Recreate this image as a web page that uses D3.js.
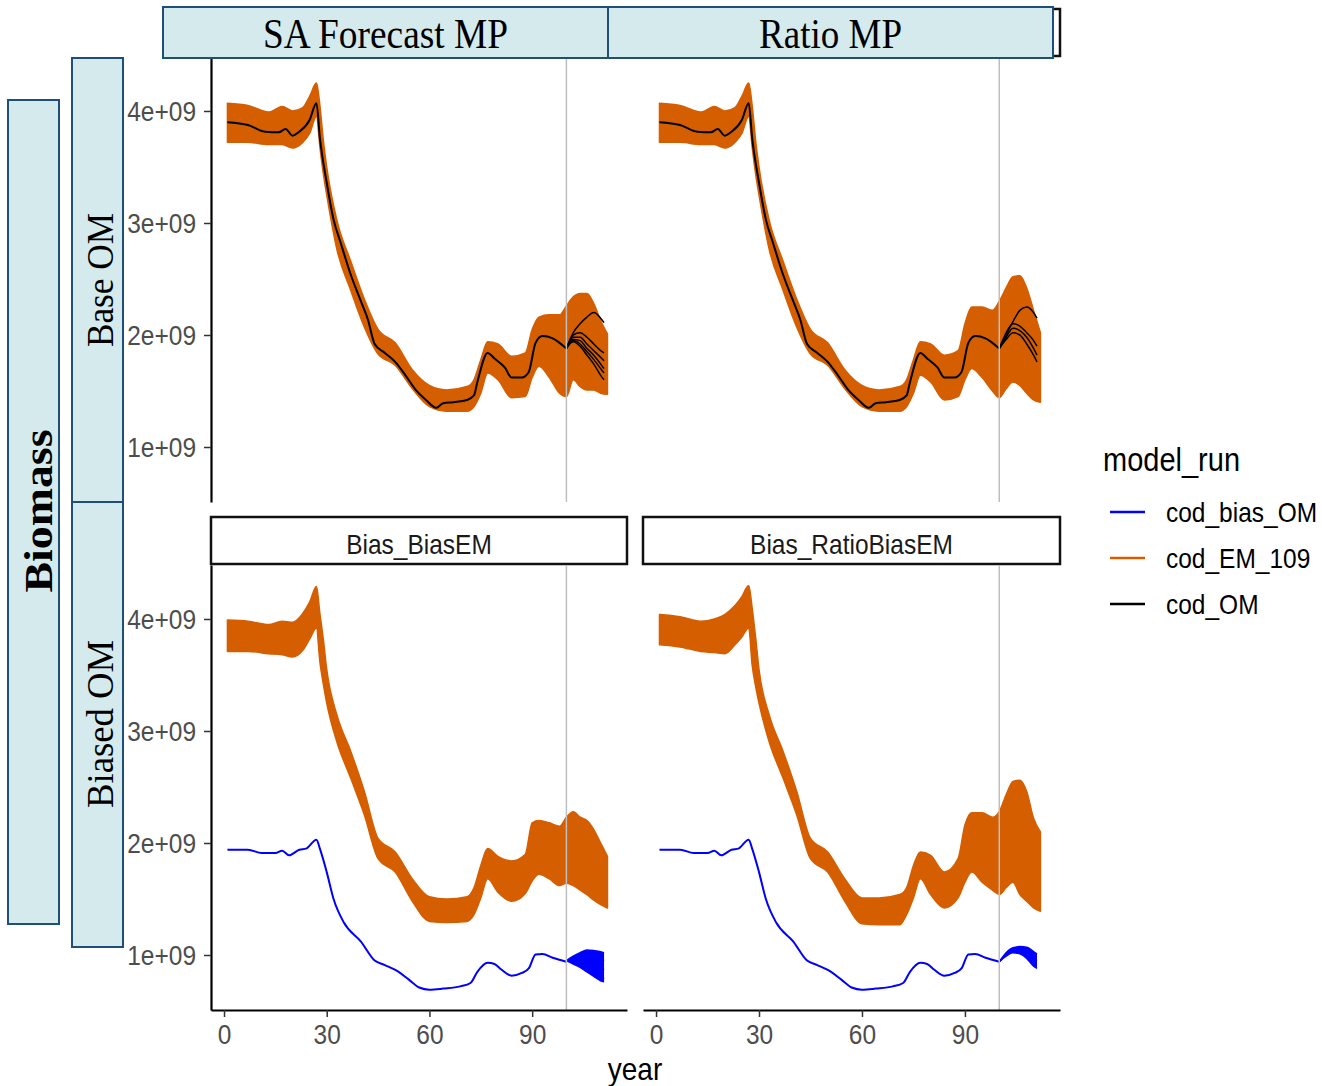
<!DOCTYPE html>
<html>
<head>
<meta charset="UTF-8">
<title>Biomass by MP and OM</title>
<script src="https://cdn.jsdelivr.net/npm/d3@7"></script>
<style>
  body { margin: 0; background: #fff; }
  svg { display: block; font-family: "Liberation Sans", Arial, sans-serif; }
</style>
</head>
<body>
<svg id="chart" width="1322" height="1086"></svg>
<script>
// all biomass values in units of 1e9

// operating model (base), historical years
var omYear = [1, 7, 12, 16, 18, 20, 22, 25, 27, 28, 30, 32, 34, 37, 40, 42, 44, 47, 50, 53, 56, 59, 62, 64, 67, 71, 73, 74, 77, 79, 82, 84, 87, 89, 91, 93, 96, 98, 100];
var omBase = [3.90, 3.875, 3.815, 3.81, 3.84, 3.78, 3.815, 3.92, 4.07, 3.76, 3.36, 3.03, 2.83, 2.54, 2.30, 2.14, 1.92, 1.84, 1.76, 1.64, 1.51, 1.42, 1.35, 1.39, 1.40, 1.42, 1.46, 1.58, 1.84, 1.79, 1.71, 1.62, 1.62, 1.67, 1.93, 1.99, 1.97, 1.93, 1.88];

// biased operating model, historical years
var biasYear = [1, 7, 11, 15, 17, 19, 22, 24, 27, 28, 30, 32, 35, 40, 44, 47, 51, 54, 57, 60, 64, 69, 72, 74, 77, 79, 81, 84, 87, 89, 91, 93, 96, 100];
var biasOM = [1.94, 1.94, 1.91, 1.91, 1.93, 1.89, 1.94, 1.95, 2.03, 1.95, 1.74, 1.50, 1.29, 1.12, 0.95, 0.91, 0.85, 0.78, 0.71, 0.69, 0.70, 0.72, 0.75, 0.85, 0.93, 0.92, 0.87, 0.815, 0.84, 0.88, 1.005, 1.01, 0.975, 0.94];

// OM projections (several iterations)
var projYear = [100, 102, 104, 106, 108, 110, 111];
var projTL = [
  [1.88, 2.02, 2.10, 2.16, 2.20, 2.15, 2.11],
  [1.88, 2.00, 2.02, 1.98, 1.92, 1.86, 1.84],
  [1.88, 1.98, 1.98, 1.92, 1.86, 1.80, 1.77],
  [1.88, 1.96, 1.95, 1.88, 1.82, 1.74, 1.70],
  [1.88, 1.95, 1.92, 1.85, 1.78, 1.70, 1.66],
  [1.88, 1.94, 1.90, 1.82, 1.74, 1.64, 1.60]
];
var projTR = [
  [1.88, 2.00, 2.12, 2.22, 2.25, 2.20, 2.15],
  [1.88, 2.02, 2.10, 2.08, 2.02, 1.95, 1.90],
  [1.88, 1.98, 2.06, 2.04, 1.98, 1.88, 1.82],
  [1.88, 1.96, 2.02, 2.00, 1.92, 1.82, 1.76]
];
var projBL = [
  [0.95, 0.99, 1.02, 1.045, 1.04, 1.03, 1.02],
  [0.95, 0.97, 0.99, 1.00, 0.99, 0.97, 0.95],
  [0.95, 0.95, 0.95, 0.94, 0.92, 0.89, 0.87],
  [0.95, 0.93, 0.91, 0.88, 0.85, 0.81, 0.79],
  [0.95, 0.92, 0.89, 0.85, 0.81, 0.77, 0.76]
];
var projBR = [
  [0.94, 1.02, 1.065, 1.075, 1.07, 1.03, 1.01],
  [0.94, 1.00, 1.04, 1.04, 1.02, 0.97, 0.95],
  [0.94, 0.99, 1.02, 1.01, 0.97, 0.90, 0.88]
];

// estimation model runs: upper and lower edge of the bundle of runs
var emYear = [1, 7, 13, 17, 20, 23, 25, 27, 28, 29, 30, 33, 37, 41, 45, 50, 55, 60, 65, 71, 73, 75, 77, 80, 84, 88, 90, 92, 95, 98, 100, 102, 104, 106, 108, 110, 112];
var emTLhi = [4.07, 4.05, 3.99, 4.04, 4.00, 4.03, 4.13, 4.25, 4.05, 3.74, 3.50, 3.02, 2.66, 2.32, 2.05, 1.93, 1.69, 1.55, 1.51, 1.54, 1.60, 1.78, 1.94, 1.92, 1.81, 1.84, 2.05, 2.16, 2.18, 2.18, 2.26, 2.34, 2.37, 2.37, 2.28, 2.13, 2.01];
var emTLlo = [3.72, 3.72, 3.70, 3.70, 3.67, 3.72, 3.80, 3.95, 3.68, 3.44, 3.25, 2.76, 2.40, 2.07, 1.83, 1.73, 1.52, 1.36, 1.32, 1.32, 1.36, 1.48, 1.66, 1.60, 1.44, 1.45, 1.62, 1.72, 1.62, 1.48, 1.45, 1.60, 1.54, 1.51, 1.51, 1.48, 1.47];
var emTRhi = [4.07, 4.05, 3.99, 4.04, 4.00, 4.03, 4.13, 4.25, 4.05, 3.74, 3.50, 3.02, 2.66, 2.32, 2.05, 1.93, 1.69, 1.55, 1.51, 1.54, 1.60, 1.78, 1.94, 1.92, 1.82, 1.86, 2.10, 2.25, 2.25, 2.22, 2.30, 2.42, 2.52, 2.53, 2.42, 2.22, 2.02];
var emTRlo = [3.72, 3.72, 3.70, 3.70, 3.67, 3.72, 3.80, 3.95, 3.68, 3.44, 3.25, 2.76, 2.40, 2.07, 1.83, 1.73, 1.52, 1.36, 1.32, 1.32, 1.36, 1.48, 1.64, 1.58, 1.42, 1.45, 1.60, 1.70, 1.62, 1.50, 1.44, 1.52, 1.58, 1.55, 1.48, 1.42, 1.40];
var emBLhi = [3.99, 3.98, 3.95, 3.98, 3.97, 4.05, 4.15, 4.29, 4.05, 3.82, 3.55, 3.14, 2.82, 2.46, 2.04, 1.92, 1.68, 1.52, 1.50, 1.52, 1.60, 1.80, 1.95, 1.88, 1.84, 1.90, 2.18, 2.20, 2.18, 2.15, 2.23, 2.28, 2.23, 2.20, 2.12, 2.00, 1.88];
var emBLlo = [3.71, 3.71, 3.69, 3.68, 3.66, 3.72, 3.82, 3.92, 3.62, 3.42, 3.25, 2.90, 2.58, 2.25, 1.86, 1.74, 1.48, 1.30, 1.29, 1.30, 1.36, 1.51, 1.68, 1.56, 1.48, 1.55, 1.66, 1.72, 1.68, 1.62, 1.64, 1.62, 1.58, 1.54, 1.49, 1.45, 1.42];
var emBRhi = [4.04, 4.02, 3.98, 4.00, 4.04, 4.12, 4.20, 4.30, 4.10, 3.84, 3.55, 3.14, 2.82, 2.46, 2.04, 1.92, 1.68, 1.51, 1.51, 1.54, 1.60, 1.80, 1.92, 1.89, 1.74, 1.86, 2.16, 2.27, 2.27, 2.23, 2.28, 2.43, 2.55, 2.56, 2.46, 2.22, 2.10];
var emBRlo = [3.77, 3.75, 3.71, 3.70, 3.69, 3.77, 3.84, 3.92, 3.59, 3.40, 3.25, 2.90, 2.58, 2.25, 1.86, 1.74, 1.48, 1.28, 1.27, 1.27, 1.36, 1.51, 1.68, 1.54, 1.42, 1.51, 1.65, 1.74, 1.65, 1.58, 1.54, 1.60, 1.65, 1.54, 1.48, 1.42, 1.39];

var yTicks = [1, 2, 3, 4];
var xTicks = [0, 30, 60, 90];
var refYear = 100;
var legendKeys = ["cod_bias_OM", "cod_EM_109", "cod_OM"];
var legendColors = ["#0000ff", "#d55e00", "#000000"];

var BN = 1e9;
var ORANGE = "#d55e00";
var svg = d3.select("#chart");

// sans text is slightly stretched vertically in the source image
function stext(g, x, y, str, size, anchor, fill) {
  return g.append("text")
    .attr("transform", "translate(" + x + "," + y + ") scale(1,1.15)")
    .attr("text-anchor", anchor || "start")
    .attr("font-size", size)
    .attr("fill", fill || "#000")
    .text(str);
}

var cols = [[211, 627], [643, 1060]];
var rows = [[57, 502], [565, 1010]];
var xDom = [-3.8, 117.7];
var yDom = [0.509 * BN, 4.482 * BN];

var panels = [
  { c: 0, r: 0, hi: emTLhi, lo: emTLlo, omY: omYear, om: omBase, proj: projTL, color: "#000", fan: false },
  { c: 1, r: 0, hi: emTRhi, lo: emTRlo, omY: omYear, om: omBase, proj: projTR, color: "#000", fan: false },
  { c: 0, r: 1, hi: emBLhi, lo: emBLlo, omY: biasYear, om: biasOM, proj: projBL, color: "#0000ff", fan: true, strip: "Bias_BiasEM" },
  { c: 1, r: 1, hi: emBRhi, lo: emBRlo, omY: biasYear, om: biasOM, proj: projBR, color: "#0000ff", fan: true, strip: "Bias_RatioBiasEM" }
];

panels.forEach(function (p) {
  var x = d3.scaleLinear().domain(xDom).range(cols[p.c]);
  var y = d3.scaleLinear().domain(yDom).range([rows[p.r][1], rows[p.r][0]]);
  var g = svg.append("g");

  // strip
  var sy = rows[p.r][0] - 48;
  g.append("rect")
    .attr("x", cols[p.c][0]).attr("y", sy)
    .attr("width", cols[p.c][1] - cols[p.c][0]).attr("height", 47)
    .attr("fill", "#fff").attr("stroke", "#111").attr("stroke-width", 2.5);
  if (p.strip) {
    stext(g, (cols[p.c][0] + cols[p.c][1]) / 2, sy + 37, p.strip, 24.5, "middle", "#1a1a1a");
  }

  // EM runs bundle
  var area = d3.area()
    .curve(d3.curveMonotoneX)
    .x(function (d, i) { return x(emYear[i]); })
    .y0(function (d, i) { return y(p.lo[i] * BN); })
    .y1(function (d, i) { return y(p.hi[i] * BN); });
  g.append("path").datum(emYear)
    .attr("d", area)
    .attr("fill", ORANGE).attr("stroke", ORANGE).attr("stroke-width", 1.5)
    .attr("stroke-linejoin", "round");

  // OM
  var line = d3.line()
    .curve(d3.curveMonotoneX)
    .x(function (d) { return x(d[0]); })
    .y(function (d) { return y(d[1] * BN); });
  var omPts = p.omY.map(function (yr, i) { return [yr, p.om[i]]; });
  g.append("path").datum(omPts)
    .attr("d", line).attr("fill", "none")
    .attr("stroke", p.color).attr("stroke-width", 2).attr("stroke-linejoin", "round");

  if (p.fan) {
    var first = p.proj[0], last = p.proj[p.proj.length - 1];
    var fanArea = d3.area()
      .curve(d3.curveMonotoneX)
      .x(function (d) { return x(d); })
      .y0(function (d, i) { return y(last[i] * BN); })
      .y1(function (d, i) { return y(first[i] * BN); });
    g.append("path").datum(projYear)
      .attr("d", fanArea).attr("fill", p.color).attr("stroke", "none");
  }
  p.proj.forEach(function (run) {
    var pts = projYear.map(function (yr, i) { return [yr, run[i]]; });
    g.append("path").datum(pts)
      .attr("d", line).attr("fill", "none")
      .attr("stroke", p.color).attr("stroke-width", 1.5).attr("stroke-linejoin", "round");
  });

  // reference year
  g.append("line")
    .attr("x1", x(refYear)).attr("x2", x(refYear))
    .attr("y1", rows[p.r][0]).attr("y2", rows[p.r][1])
    .attr("stroke", "#bebebe").attr("stroke-width", 1.5);

  // axes
  if (p.c === 0) {
    var ya = g.append("g")
      .attr("transform", "translate(" + cols[0][0] + ",0)")
      .call(d3.axisLeft(y).tickValues(yTicks.map(function (v) { return v * BN; }))
        .tickFormat(function (d) { return (d / BN) + "e+09"; })
        .tickSize(7).tickSizeOuter(0).tickPadding(8));
    ya.select(".domain").attr("stroke", "#000").attr("stroke-width", 2.2);
    ya.selectAll(".tick line").attr("stroke", "#333").attr("stroke-width", 1.5);
    ya.selectAll(".tick text")
      .attr("font-size", 24.5).attr("fill", "#4d4d4d")
      .attr("font-family", "Liberation Sans, Arial, sans-serif")
      .attr("transform", "scale(1,1.15)");
  }
  if (p.r === 1) {
    var xa = g.append("g")
      .attr("transform", "translate(0," + rows[1][1] + ")")
      .call(d3.axisBottom(x).tickValues(xTicks).tickSize(7).tickSizeOuter(0).tickPadding(5));
    xa.select(".domain").attr("stroke", "#000").attr("stroke-width", 2.2);
    xa.selectAll(".tick line").attr("stroke", "#333").attr("stroke-width", 1.5);
    xa.selectAll(".tick text")
      .attr("font-size", 24.5).attr("fill", "#4d4d4d")
      .attr("font-family", "Liberation Sans, Arial, sans-serif")
      .attr("transform", "scale(1,1.15)");
  }
});

// axis title
stext(svg, 635, 1080, "year", 28, "middle", "#000");

// legend
var lg = svg.append("g");
stext(lg, 1103, 471, "model_run", 29, "start", "#000");
legendKeys.forEach(function (k, i) {
  var ly = 512 + i * 46;
  lg.append("line")
    .attr("x1", 1110).attr("x2", 1145).attr("y1", ly).attr("y2", ly)
    .attr("stroke", legendColors[i]).attr("stroke-width", 2.5);
  stext(lg, 1166, ly + 10, k, 24.5, "start", "#000");
});

// overlay labels (boxes pasted over the figure)
var BOX_FILL = "#d4eaec", BOX_LINE = "#1f4e79";
var ov = svg.append("g").attr("font-family", "Liberation Serif, Times New Roman, serif");
function box(x0, y0, x1, y1) {
  ov.append("rect").attr("x", x0).attr("y", y0)
    .attr("width", x1 - x0).attr("height", y1 - y0)
    .attr("fill", BOX_FILL).attr("stroke", BOX_LINE).attr("stroke-width", 2);
}
box(163, 7, 608, 58);
box(608, 7, 1053, 58);
ov.append("text").attr("x", 385.5).attr("y", 48).attr("text-anchor", "middle")
  .attr("font-size", 42).attr("textLength", 245).attr("lengthAdjust", "spacingAndGlyphs")
  .text("SA Forecast MP");
ov.append("text").attr("x", 830.5).attr("y", 48).attr("text-anchor", "middle")
  .attr("font-size", 42).attr("textLength", 143).attr("lengthAdjust", "spacingAndGlyphs")
  .text("Ratio MP");

box(8, 100, 59, 924);
box(72, 58, 123, 502);
box(72, 502, 123, 947);
function vtext(cx, cy, str, size, len, bold) {
  ov.append("text")
    .attr("transform", "translate(" + cx + "," + cy + ") rotate(-90)")
    .attr("text-anchor", "middle")
    .attr("font-size", size)
    .attr("font-weight", bold ? "bold" : "normal")
    .attr("textLength", len).attr("lengthAdjust", "spacingAndGlyphs")
    .text(str);
}
vtext(52, 511, "Biomass", 40, 163, true);
vtext(113, 280, "Base OM", 38, 134, false);
vtext(113, 724, "Biased OM", 38, 168, false);
</script>
</body>
</html>
